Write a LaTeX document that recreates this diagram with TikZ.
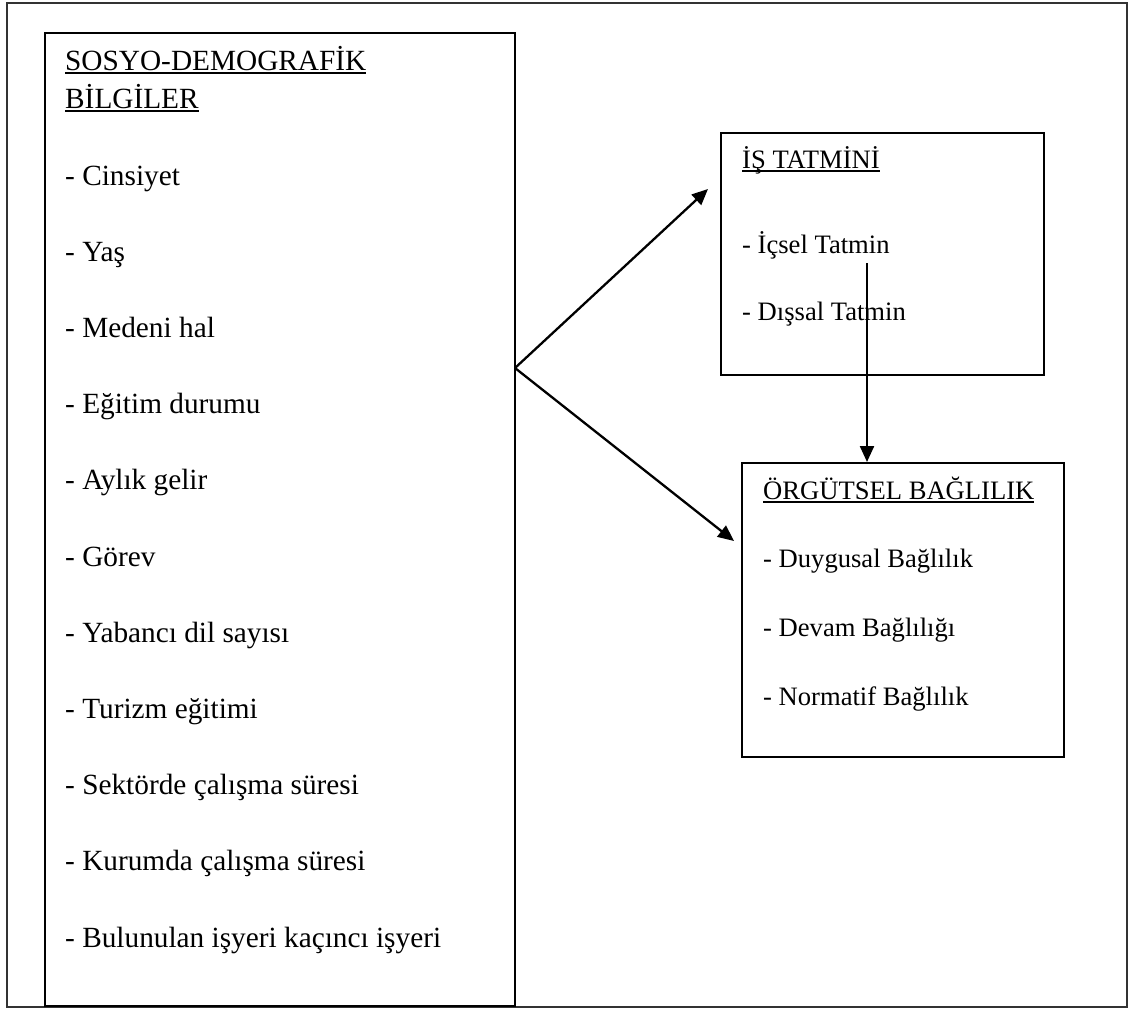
\documentclass[tikz,border=0pt]{standalone}
\usepackage{fontspec}
\setmainfont{Liberation Serif}
\usetikzlibrary{arrows.meta}
\newcommand\myul[1]{\setbox0\hbox{#1}\rlap{\rule[-4.3pt]{\wd0}{2pt}}\box0}
\begin{document}
\begin{tikzpicture}[x=1pt,y=-1pt,
  box/.style={draw, line width=2pt, inner sep=0pt, rectangle},
  txt/.style={anchor=base west, inner sep=0pt, font=\fontsize{29.3}{35}\selectfont},
  rtxt/.style={anchor=base west, inner sep=0pt, font=\fontsize{26.6}{32}\selectfont},
  arr/.style={line width=2.3pt, -{Triangle[length=16pt,width=14pt]}}]
\useasboundingbox (0,0) rectangle (1133,1009);
% outer frame
\node[draw=black!80, line width=1.6pt, inner sep=0pt, minimum width=1120pt, minimum height=1004pt] (frame) at (567,505) {};
% boxes
\node[box, minimum width=470pt, minimum height=973pt] (sd) at (280,519.5) {};
\node[box, minimum width=323pt, minimum height=242pt] (is) at (882.5,254) {};
\node[box, minimum width=322pt, minimum height=294pt] (org) at (903,610) {};
% left box text
\node[txt] (h1) at (65,70) {\myul{SOSYO-DEMOGRAFİK}};
\node[txt] (h2) at (65,108) {\myul{BİLGİLER}};
\foreach \t [count=\i from 0] in {- Cinsiyet, - Yaş, - Medeni hal, - Eğitim durumu, - Aylık gelir, - Görev, - Yabancı dil sayısı, - Turizm eğitimi, - Sektörde çalışma süresi, - Kurumda çalışma süresi, - Bulunulan işyeri kaçıncı işyeri}
  \node[txt] (it\i) at (65,{185+76.2*\i}) {\t};
% job satisfaction box text
\node[rtxt] (ish) at (742,168) {\myul{İŞ TATMİNİ}};
\node[rtxt] (is1) at (742,253) {- İçsel Tatmin};
\node[rtxt] (is2) at (742,320) {- Dışsal Tatmin};
% organisational commitment box text
\node[rtxt] (orgh) at (763,499) {\myul{ÖRGÜTSEL BAĞLILIK}};
\node[rtxt] (org1) at (763,567) {- Duygusal Bağlılık};
\node[rtxt] (org2) at (763,636) {- Devam Bağlılığı};
\node[rtxt] (org3) at (763,705) {- Normatif Bağlılık};
% connectors
\coordinate (v) at (515,368);
\coordinate (t1) at (708,189);
\coordinate (t2) at (734,541);
\coordinate (vs) at (867,263);
\draw[arr] (v) -- (t1);
\draw[arr] (v) -- (t2);
\draw[arr] (vs) -- (vs |- org.north);
\end{tikzpicture}
\end{document}
